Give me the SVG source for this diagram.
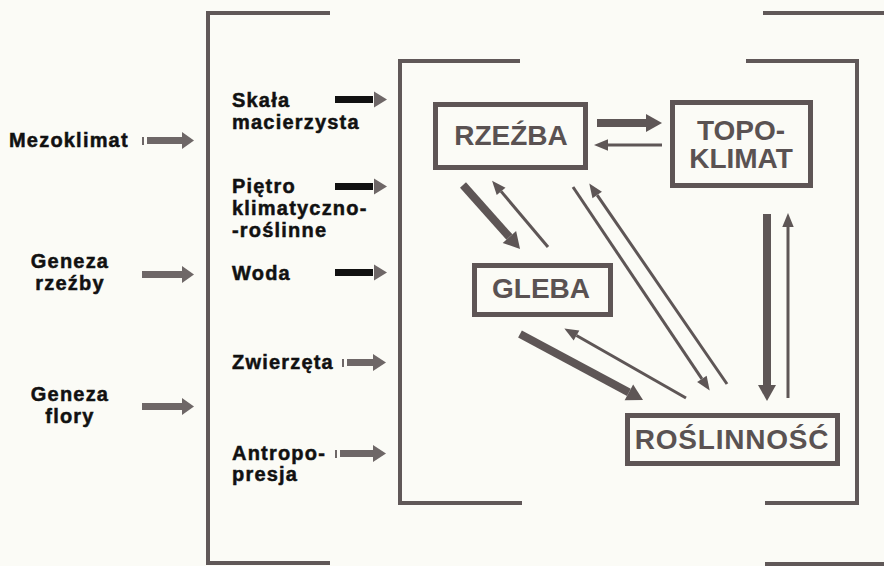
<svg xmlns="http://www.w3.org/2000/svg" width="884" height="566" viewBox="0 0 884 566">
<style>
.bg{fill:#fbfbf6}
.br{fill:none;stroke:#605858;stroke-width:4;stroke-linecap:butt}
.lbl{font-family:"Liberation Sans",Arial,sans-serif;font-weight:bold;font-size:20px;letter-spacing:1.2px;fill:#111;stroke:#111;stroke-width:0.5}
.box{fill:none;stroke:#5e5555;stroke-width:5}
.bt{font-family:"Liberation Sans",Arial,sans-serif;font-weight:bold;font-size:28px;fill:#5a5252;text-anchor:middle}
.ga{fill:#6e6767}
.ba{fill:#111}
.thick{stroke:#5e5656;stroke-width:8;fill:none;marker-end:url(#hk)}
.thin{stroke:#5e5656;stroke-width:3;fill:none;marker-end:url(#hn)}
</style>
<defs>
<marker id="hk" markerUnits="userSpaceOnUse" markerWidth="20" markerHeight="22" refX="0" refY="9" orient="auto" viewBox="0 0 20 18" overflow="visible">
<path d="M0,0 L16,9 L0,18 z" fill="#5e5656"/>
</marker>
<marker id="hn" markerUnits="userSpaceOnUse" markerWidth="14" markerHeight="12" refX="0" refY="4.5" orient="auto" viewBox="0 0 11 9" overflow="visible">
<path d="M0,0 L11,4.5 L0,9 z" fill="#5e5656"/>
</marker>
</defs>
<rect class="bg" x="0" y="0" width="884" height="566"/>

<g id="brackets">
<path class="br" d="M330,13 H208 V563 H330"/>
<path class="br" d="M763,13 H884 M765,564 H884"/>
<path class="br" d="M520,61 H400 V503 H522"/>
<path class="br" d="M746,61 H857 V503 H765"/>
</g>

<g id="mezoklimat">
<text class="lbl" x="9" y="147">Mezoklimat</text>
<rect class="ga" x="142" y="137" width="2" height="8"/>
<rect class="ga" x="147" y="137" width="36" height="7"/>
<path class="ga" d="M182,132 L194,140.5 L182,149 z"/>
</g>
<g id="geneza-rzezby">
<text class="lbl" x="70" y="268" text-anchor="middle">Geneza</text>
<text class="lbl" x="70" y="290" text-anchor="middle">rzeźby</text>
<rect class="ga" x="142" y="271" width="41" height="7"/>
<path class="ga" d="M182,266 L194,274.5 L182,283 z"/>
</g>
<g id="geneza-flory">
<text class="lbl" x="70" y="401" text-anchor="middle">Geneza</text>
<text class="lbl" x="70" y="423" text-anchor="middle">flory</text>
<rect class="ga" x="142" y="403" width="41" height="7"/>
<path class="ga" d="M182,398 L194,406.5 L182,415 z"/>
</g>

<g id="skala">
<text class="lbl" x="232" y="107">Skała</text>
<text class="lbl" x="232" y="129">macierzysta</text>
<rect class="ba" x="335" y="96" width="38" height="7"/>
<path class="ga" d="M374,91.5 L387,99.5 L374,107.5 z"/>
</g>
<g id="pietro">
<text class="lbl" x="232" y="193">Piętro</text>
<text class="lbl" x="232" y="215">klimatyczno-</text>
<text class="lbl" x="232" y="237">-roślinne</text>
<rect class="ba" x="335" y="183" width="38" height="7"/>
<path class="ga" d="M374,178.5 L387,186.5 L374,194.5 z"/>
</g>
<g id="woda">
<text class="lbl" x="232" y="280">Woda</text>
<rect class="ba" x="335" y="269" width="38" height="7"/>
<path class="ga" d="M374,264.5 L387,272.5 L374,280.5 z"/>
</g>
<g id="zwierzeta">
<text class="lbl" x="232" y="369">Zwierzęta</text>
<rect class="ga" x="342" y="359" width="2" height="8"/>
<rect class="ga" x="347" y="359" width="27" height="7"/>
<path class="ga" d="M373,354 L386,362.5 L373,371 z"/>
</g>
<g id="antropopresja">
<text class="lbl" x="232" y="460">Antropo-</text>
<text class="lbl" x="232" y="481">presja</text>
<rect class="ga" x="335" y="450" width="2" height="8"/>
<rect class="ga" x="340" y="450" width="34" height="7"/>
<path class="ga" d="M373,445 L386,453.5 L373,462 z"/>
</g>

<g id="rzezba">
<rect class="box" x="435.5" y="104.5" width="150" height="63"/>
<text class="bt" x="511" y="145">RZEŹBA</text>
</g>
<g id="topoklimat">
<rect class="box" x="672.5" y="102.5" width="138" height="83"/>
<text class="bt" x="741" y="140" font-size="27">TOPO-</text>
<text class="bt" x="741" y="168" font-size="27">KLIMAT</text>
</g>
<g id="gleba">
<rect class="box" x="474.5" y="265.5" width="136" height="49"/>
<text class="bt" x="541" y="298">GLEBA</text>
</g>
<g id="roslinnosc">
<rect class="box" x="627.5" y="415.5" width="210" height="48"/>
<text class="bt" x="732" y="449" letter-spacing="0.8">ROŚLINNOŚĆ</text>
</g>

<g id="connectors">
<line class="thick" x1="597" y1="123" x2="646" y2="123" stroke-width="7"/>
<line class="thin" x1="662" y1="145" x2="608" y2="145"/>
<line class="thick" x1="463" y1="185" x2="509.4" y2="237"/>
<line class="thin" x1="548" y1="247" x2="501.1" y2="191.4"/>
<line class="thin" x1="573" y1="187" x2="701.9" y2="378.9"/>
<line class="thin" x1="727" y1="384" x2="597.2" y2="195.1"/>
<line class="thick" x1="520" y1="334" x2="628.9" y2="392.4"/>
<line class="thin" x1="686" y1="398" x2="576.5" y2="335.5"/>
<line class="thick" x1="767" y1="214" x2="767" y2="385" stroke-width="9"/>
<line class="thin" x1="788" y1="398" x2="788" y2="227"/>
</g>
</svg>
